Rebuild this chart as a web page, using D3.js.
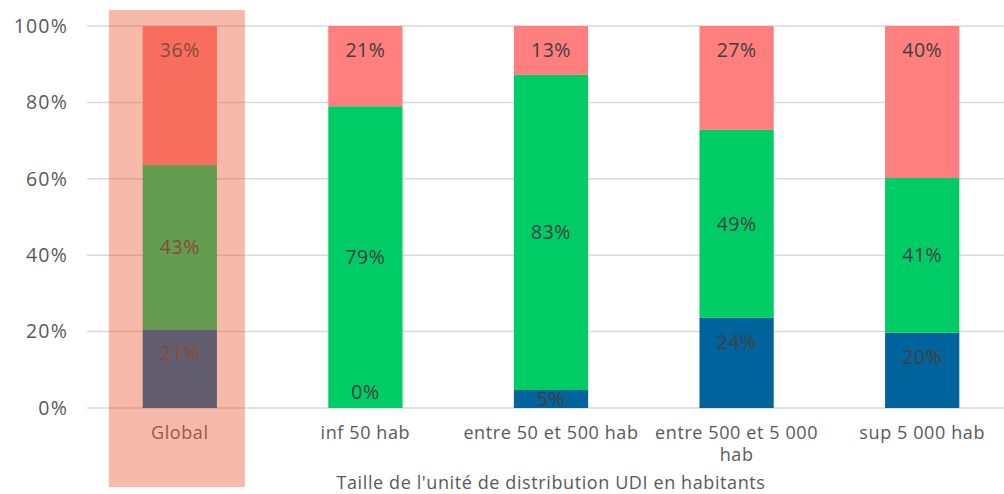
<!DOCTYPE html>
<html>
<head>
<meta charset="utf-8">
<script src="https://cdn.jsdelivr.net/npm/d3@7"></script>
<style>
  body { margin: 0; background: #fff; }
  text { font-family: "Open Sans", Lato, sans-serif; }
</style>
</head>
<body>
<div id="chart"></div>
<script>
// categories and series (shares, %)
const categories = ["Global", "inf 50 hab", "entre 50 et 500 hab", "entre 500 et 5 000 hab", "sup 5 000 hab"];
const seriesNames = ["bleu", "vert", "rose"];
const bleu = [20.6, 0, 4.7, 23.6, 19.7];
const vert = [43, 79, 82.5, 49.2, 40.5];
const rose = [36.4, 21, 12.8, 27.2, 39.8];
const yTicks = [0, 20, 40, 60, 80, 100];
const axisTitle = "Taille de l'unité de distribution UDI en habitants";
const highlighted = "Global";

const colors = { bleu: "#00639b", vert: "#00cc66", rose: "#ff7f7f" };

const width = 1004, height = 494;
const margin = { top: 26, right: -11, bottom: 86, left: 87 };

const svg = d3.select("#chart").append("svg")
    .attr("width", width)
    .attr("height", height);

const x = d3.scaleBand()
    .domain(categories)
    .range([margin.left, width - margin.right])
    .paddingInner(0.6)
    .paddingOuter(0.3);

const y = d3.scaleLinear()
    .domain([0, 100])
    .range([height - margin.bottom, margin.top]);

// gridlines
svg.append("g")
    .selectAll("line")
    .data(yTicks)
    .enter().append("line")
    .attr("x1", margin.left)
    .attr("x2", width)
    .attr("y1", d => y(d))
    .attr("y2", d => y(d))
    .attr("stroke", "#d9d9d9")
    .attr("stroke-width", 1.5);

// y axis labels
const yAxis = d3.axisLeft(y).tickValues(yTicks).tickFormat(d => d + "%").tickSize(0).tickPadding(19);
svg.append("g")
    .attr("transform", `translate(${margin.left},0)`)
    .call(yAxis)
    .call(g => g.select(".domain").remove())
    .selectAll("text")
    .attr("font-size", 19.5)
    .attr("letter-spacing", 1.2)
    .attr("font-family", "'Open Sans', Lato, sans-serif")
    .attr("fill", "#595959");

// stacked data
const rows = categories.map((c, i) => ({ cat: c, bleu: bleu[i], vert: vert[i], rose: rose[i] }));
const stack = d3.stack().keys(seriesNames)(rows);

const layers = svg.append("g")
    .selectAll("g")
    .data(stack)
    .enter().append("g")
    .attr("fill", d => colors[d.key]);

layers.selectAll("rect")
    .data(d => d)
    .enter().append("rect")
    .attr("x", d => x(d.data.cat))
    .attr("width", x.bandwidth())
    .attr("y", d => y(d[1]))
    .attr("height", d => y(d[0]) - y(d[1]));

// data labels: green centred, others near the top of their segment
stack.forEach(layer => {
    svg.append("g")
        .selectAll("text")
        .data(layer)
        .enter().append("text")
        .attr("x", d => x(d.data.cat) + x.bandwidth() / 2)
        .attr("y", d => {
            const top = y(d[1]), bottom = y(d[0]), h = bottom - top, mid = (top + bottom) / 2;
            if (layer.key === "vert") return mid;
            if (h < 1) return bottom - 16;
            if (h < 48) return mid;
            return top + 24;
        })
        .attr("dy", "0.35em")
        .attr("text-anchor", "middle")
        .attr("font-size", 19.5)
        .attr("letter-spacing", 0.5)
        .attr("fill", "#404040")
        .text(d => Math.round(d.data[layer.key]) + "%");
});

// category labels (wrapped)
const catLines = {
    "entre 500 et 5 000 hab": ["entre 500 et 5 000", "hab"]
};
const catG = svg.append("g");
categories.forEach(c => {
    const lines = catLines[c] || [c];
    const t = catG.append("text")
        .attr("x", x(c) + x.bandwidth() / 2)
        .attr("y", height - margin.bottom + 31)
        .attr("text-anchor", "middle")
        .attr("font-size", 18)
        .attr("letter-spacing", 0.6)
        .attr("fill", "#595959");
    lines.forEach((l, i) => {
        t.append("tspan")
            .attr("x", x(c) + x.bandwidth() / 2)
            .attr("dy", i === 0 ? 0 : 22)
            .text(l);
    });
});

// axis title
svg.append("text")
    .attr("x", x(categories[2]) + x.bandwidth() / 2)
    .attr("y", 489)
    .attr("text-anchor", "middle")
    .attr("font-size", 18)
    .attr("letter-spacing", 0.6)
    .attr("fill", "#595959")
    .text(axisTitle);

// highlight band over Global
const hx = x(highlighted) + x.bandwidth() / 2;
svg.append("rect")
    .attr("x", hx - 71)
    .attr("y", 10)
    .attr("width", 136)
    .attr("height", 477)
    .attr("fill", "rgb(236,88,49)")
    .attr("fill-opacity", 0.42);
</script>
</body>
</html>
